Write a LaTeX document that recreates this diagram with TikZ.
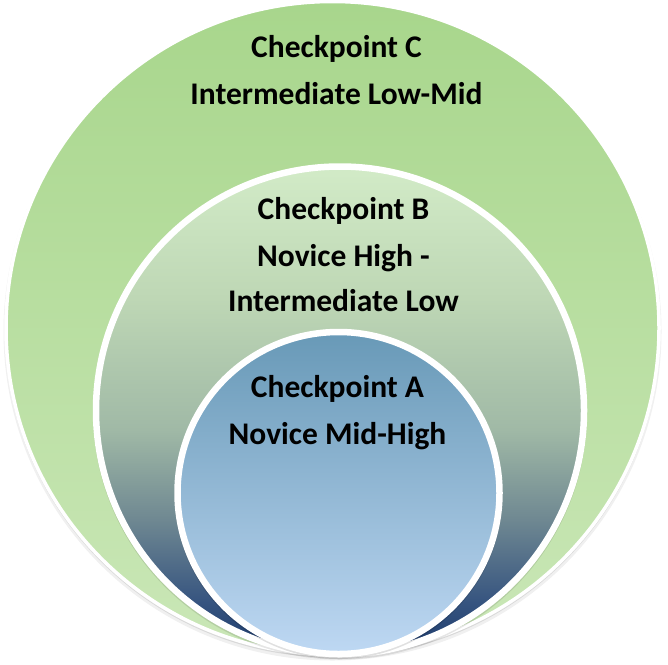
\documentclass[tikz,border=0pt]{standalone}
\usepackage{fontspec}
\setmainfont{Carlito}
\definecolor{cTop}{RGB}{168,214,140}
\definecolor{cBot}{RGB}{202,231,183}
\definecolor{bB0}{RGB}{28,58,108}
\definecolor{bB1}{RGB}{55,85,128}
\definecolor{bB2}{RGB}{112,137,146}
\definecolor{bB3}{RGB}{160,185,166}
\definecolor{bB4}{RGB}{190,215,181}
\definecolor{bB5}{RGB}{210,235,199}
\definecolor{aTop}{RGB}{104,153,183}
\definecolor{aMid}{RGB}{128,166,202}
\definecolor{aBot}{RGB}{190,216,243}
\pgfdeclareverticalshading{ringB}{100bp}{color(0bp)=(bB0); color(25bp)=(bB0); color(30.5bp)=(bB1); color(39bp)=(bB2); color(48bp)=(bB3); color(61.5bp)=(bB4); color(75bp)=(bB5); color(100bp)=(bB5)}
\tikzset{
  ring/.style={circle, inner sep=0pt, outer sep=0pt, draw=white},
  lbl/.style={anchor=base, font=\fontsize{31.5}{38}\selectfont\bfseries, text=black, inner sep=0pt},
}
\begin{document}
\begin{tikzpicture}[x=1pt,y=-1pt]
\useasboundingbox (0,0) rectangle (668,664);
% soft shadows
\fill[black,opacity=0.06] (332.5,331.5) circle (329);
\fill[black,opacity=0.10] (332.5,330) circle (327.5);
\node[ring, line width=3.5pt, top color=cTop, bottom color=cBot, minimum size=653pt] (C) at (332.5,328) {};
\fill[black,opacity=0.10] (340,412.5) circle (247);
\node[ring, line width=6.5pt, shading=ringB, minimum size=488pt] (B) at (340,410.5) {};
\fill[black,opacity=0.12] (338.5,495) circle (164);
\node[ring, line width=6.5pt, top color=aTop, middle color=aMid, bottom color=aBot, minimum size=322pt] (A) at (338.5,493) {};
% labels
\node[lbl] (c1) at (336.5,57.5) {Checkpoint C};
\node[lbl] (c2) at (336.5,104.4) {Intermediate Low-Mid};
\node[lbl] (b1) at (343.5,219.3) {Checkpoint B};
\node[lbl] (b2) at (343.5,266) {Novice High -};
\node[lbl] (b3) at (343.5,311.7) {Intermediate Low};
\node[lbl] (a1) at (337.5,397.7) {Checkpoint A};
\node[lbl] (a2) at (337.5,444.3) {Novice Mid-High};
\end{tikzpicture}
\end{document}
